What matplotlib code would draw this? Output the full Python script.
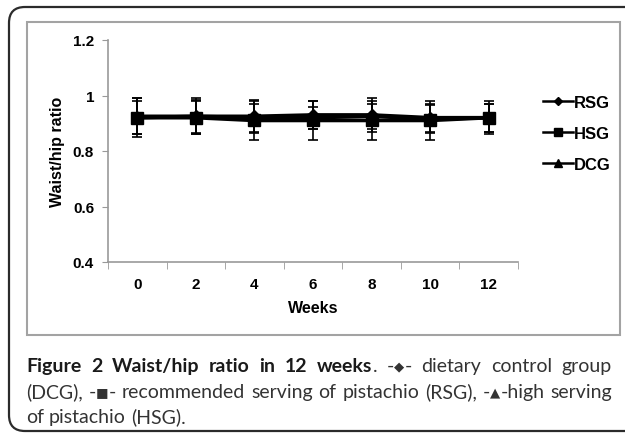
import matplotlib
matplotlib.use("Agg")
import matplotlib.pyplot as plt
from matplotlib.patches import FancyBboxPatch, Rectangle
from matplotlib.lines import Line2D

# data
weeks = ["0", "2", "4", "6", "8", "10", "12"]
rsg = [0.92, 0.925, 0.925, 0.93, 0.93, 0.92, 0.92]
hsg = [0.92, 0.92, 0.91, 0.91, 0.91, 0.91, 0.92]
dcg = [0.925, 0.925, 0.92, 0.92, 0.925, 0.915, 0.92]
rsg_sd = [0.06, 0.06, 0.06, 0.05, 0.06, 0.05, 0.05]
hsg_sd = [0.07, 0.06, 0.07, 0.07, 0.07, 0.07, 0.06]
dcg_sd = [0.065, 0.065, 0.05, 0.04, 0.045, 0.05, 0.05]
yticks = [0.4, 0.6, 0.8, 1.0, 1.2]
ytick_labels = ["0.4", "0.6", "0.8", "1", "1.2"]

W, H = 625, 435
fig = plt.figure(figsize=(W / 100, H / 100), dpi=100)

# background axes in pixel coords for the frames and caption
bg = fig.add_axes([0, 0, 1, 1], zorder=0)
bg.set_xlim(0, W)
bg.set_ylim(H, 0)
bg.axis("off")
bg.add_patch(FancyBboxPatch((9, 8), 700, 424, boxstyle="round,pad=0,rounding_size=16",
                            fc="white", ec="#2b2b2b", lw=1.6))
bg.add_patch(Rectangle((27, 23), 593, 313, fc="none", ec="#a3a3a3", lw=1.5))

# chart
ax = fig.add_axes([108 / W, 1 - 263 / H, 410 / W, 222 / H], zorder=1)
ax.patch.set_alpha(0)
x = list(range(len(weeks)))
tf = dict(family="Liberation Sans", weight="bold")

series = [("RSG", rsg, rsg_sd, "D", 6), ("HSG", hsg, hsg_sd, "s", 8), ("DCG", dcg, dcg_sd, "^", 7)]
for name, vals, sd, mk, ms in series:
    ax.errorbar(x, vals, yerr=sd, color="black", lw=2.6, marker=mk, ms=ms,
                ecolor="black", elinewidth=1.2, capsize=3.5, capthick=1.2, label=name)

ax.set_xlim(-0.5, len(weeks) - 0.5)
ax.set_ylim(0.4, 1.2)
ax.set_xticks(x)
ax.set_xticklabels(weeks, fontsize=11, **tf)
ax.set_xticks([i - 0.5 for i in range(len(weeks) + 1)], minor=True)
ax.tick_params(axis="x", which="major", length=0, pad=11)
ax.tick_params(axis="x", which="minor", length=5, color="#999999", direction="out")
ax.set_yticks(yticks)
ax.set_yticklabels(ytick_labels, fontsize=11, **tf)
ax.tick_params(axis="y", length=4, color="#999999", pad=6)
for s in ["top", "right"]:
    ax.spines[s].set_visible(False)
for s in ["left", "bottom"]:
    ax.spines[s].set_color("#999999")
    ax.spines[s].set_linewidth(1.2)
ax.set_xlabel("Weeks", fontsize=11.5, labelpad=6, **tf)
ax.set_ylabel("Waist/hip ratio", fontsize=11.5, labelpad=6, **tf)

leg_ms = {"D": 4.5, "s": 6, "^": 6}
handles = [Line2D([], [], color="black", lw=1.8, marker=mk, ms=leg_ms[mk]) for _, _, _, mk, _ in series]
fig.legend(handles, [s[0] for s in series], loc="upper left", bbox_to_anchor=(528 / W, 1 - 81 / H),
           frameon=False, handlelength=1.8, handletextpad=0.05, labelspacing=0.95,
           borderaxespad=0.5, borderpad=0.4,
           prop=dict(family="Liberation Sans", weight="bold", size=12))

# caption, justified like the journal layout
cap_font = ["Lato", "DejaVu Sans"]
cap_size = 14
sym_size = 9.5
cap_color = "#333333"
renderer = fig.canvas.get_renderer()

B, N, S = "bold", "normal", "sym"
lines = [
    [[("Figure", B)], [("2", B)], [("Waist/hip", B)], [("ratio", B)],
     [("in", B)], [("12", B)], [("weeks", B), (".", N)],
     [("-", N), ("\u25c6", S), ("-", N)], [("dietary", N)], [("control", N)], [("group", N)]],
    [[("(DCG),", N)], [("-", N), ("\u25a0", S), ("-", N)], [("recommended", N)], [("serving", N)],
     [("of", N)], [("pistachio", N)], [("(RSG),", N)], [("-", N), ("\u25b2", S), ("-high", N)],
     [("serving", N)]],
    [[("of", N)], [("pistachio", N)], [("(HSG).", N)]],
]
line_y = [372, 398, 423]
x0, x1 = 26, 612


def seg_style(kind):
    if kind == S:
        return dict(fontsize=sym_size, fontweight="normal", family=["DejaVu Sans"])
    return dict(fontsize=cap_size, fontweight=kind, family=cap_font)


def seg_width(txt, kind):
    t = bg.text(0, 0, txt, **seg_style(kind))
    w = t.get_window_extent(renderer).width
    t.remove()
    return w


space = seg_width("a a", N) - seg_width("aa", N)
for i, words in enumerate(lines):
    widths = [[seg_width(t, k) for t, k in wd] for wd in words]
    totals = [sum(w) for w in widths]
    if i < len(lines) - 1:
        gap = (x1 - x0 - sum(totals)) / (len(words) - 1)
    else:
        gap = space
    cx = x0
    for wd, ws in zip(words, widths):
        sx = cx
        for (t, k), w in zip(wd, ws):
            col = "#1a1a1a" if k == B else cap_color
            yy = line_y[i] - 1.5 if k == S else line_y[i]
            bg.text(sx, yy, t, color=col, va="baseline", ha="left", **seg_style(k))
            sx += w
        cx = sx + gap

fig.savefig("out.png", dpi=100)
